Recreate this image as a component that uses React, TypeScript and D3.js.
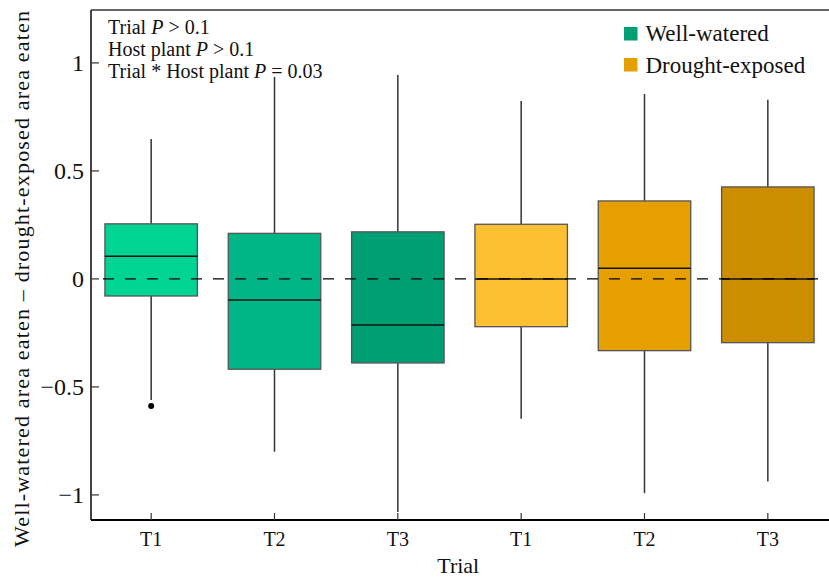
import React from "react";
import * as d3 from "d3";

const groupKeys = ["WW-T1", "WW-T2", "WW-T3", "DE-T1", "DE-T2", "DE-T3"];
const groupLabels = ["T1", "T2", "T3", "T1", "T2", "T3"];
const boxColors = ["#00D394", "#00B686", "#009E73", "#FFBF33", "#E69F00", "#CD8D00"];
const whiskerHigh = [0.648, 0.935, 0.944, 0.824, 0.856, 0.829];
const q3 = [0.255, 0.211, 0.218, 0.253, 0.361, 0.426];
const median = [0.105, -0.097, -0.213, 0, 0.049, 0];
const q1 = [-0.079, -0.418, -0.389, -0.221, -0.332, -0.295];
const whiskerLow = [-0.56, -0.8, -1.079, -0.647, -0.992, -0.938];
const outlierGroup = [0];
const outlierValue = [-0.588];

const yTicks = [-1, -0.5, 0, 0.5, 1];
const yTickLabels = ["\u22121", "\u22120.5", "0", "0.5", "1"];
const legendLabels = ["Well-watered", "Drought-exposed"];
const legendColors = ["#009E73", "#E69F00"];

const W = 829;
const H = 578;
const left = 91;
const right = 829.5;
const top = 10;
const bottom = 520;
const FONT = "'Liberation Serif', 'Times New Roman', serif";

export default function App() {
  const x = d3
    .scaleBand<string>()
    .domain(groupKeys)
    .range([89.5, 829.5])
    .paddingInner(0.25)
    .paddingOuter(0.125);
  const y = d3.scaleLinear().domain([-1.116, 1.245]).range([bottom, top]);
  const bw = x.bandwidth();

  return (
    <svg
      width={W}
      height={H}
      style={{ position: "absolute", left: 0, top: 0, background: "#fff" }}
      fontFamily={FONT}
    >
      {/* boxes */}
      {groupKeys.map((k, i) => {
        const x0 = x(k)!;
        const cx = x0 + bw / 2;
        return (
          <g key={k}>
            <line x1={cx} x2={cx} y1={y(whiskerHigh[i])} y2={y(q3[i])} stroke="#333" strokeWidth={1.5} />
            <line x1={cx} x2={cx} y1={y(q1[i])} y2={y(whiskerLow[i])} stroke="#333" strokeWidth={1.5} />
            <rect
              x={x0}
              y={y(q3[i])}
              width={bw}
              height={y(q1[i]) - y(q3[i])}
              fill={boxColors[i]}
              stroke="#555"
              strokeWidth={1.3}
            />
            <line x1={x0} x2={x0 + bw} y1={y(median[i])} y2={y(median[i])} stroke="#111" strokeWidth={1.5} />
          </g>
        );
      })}
      {outlierGroup.map((g, i) => (
        <circle key={i} cx={x(groupKeys[g])! + bw / 2} cy={y(outlierValue[i])} r={3} fill="#000" />
      ))}
      {/* zero reference */}
      <line
        x1={left + 12}
        x2={right}
        y1={y(0)}
        y2={y(0)}
        stroke="#000"
        strokeWidth={1.3}
        strokeDasharray="11,11"
      />
      {/* frame */}
      <line x1={left} x2={right} y1={top} y2={top} stroke="#333" strokeWidth={1.5} />
      <line x1={left} x2={left} y1={top} y2={bottom} stroke="#444" strokeWidth={2} />
      <line x1={left} x2={right} y1={bottom} y2={bottom} stroke="#000" strokeWidth={2} />
      {/* y ticks */}
      {yTicks.map((t, i) => (
        <g key={t}>
          <line x1={left} x2={left + 8} y1={y(t)} y2={y(t)} stroke="#333" strokeWidth={1.2} />
          <text x={84} y={y(t)} dy="0.35em" textAnchor="end" fontSize={24} fill="#111">
            {yTickLabels[i]}
          </text>
        </g>
      ))}
      {/* x ticks */}
      {groupKeys.map((k, i) => {
        const cx = x(k)! + bw / 2;
        return (
          <g key={k}>
            <line x1={cx} x2={cx} y1={bottom} y2={bottom - 7} stroke="#333" strokeWidth={1.2} />
            <text x={cx} y={546} textAnchor="middle" fontSize={20} fill="#111">
              {groupLabels[i]}
            </text>
          </g>
        );
      })}
      <text x={(left + right) / 2 - 2} y={573} textAnchor="middle" fontSize={22} fill="#111">
        Trial
      </text>
      <text
        transform={`translate(29,${(top + 548) / 2}) rotate(-90)`}
        textAnchor="middle"
        fontSize={22}
        fill="#111"
        textLength={536}
        lengthAdjust="spacing"
      >
        Well-watered area eaten – drought-exposed area eaten
      </text>
      {/* annotation */}
      <g fontSize={20} fill="#111">
        <text x={108} y={34}>
          Trial <tspan fontStyle="italic">P</tspan> &gt; 0.1
        </text>
        <text x={108} y={56}>
          Host plant <tspan fontStyle="italic">P</tspan> &gt; 0.1
        </text>
        <text x={108} y={78}>
          Trial * Host plant <tspan fontStyle="italic">P</tspan> = 0.03
        </text>
      </g>
      {/* legend */}
      {legendLabels.map((l, i) => (
        <g key={l}>
          <rect x={624} y={27 + i * 31} width={13.5} height={13.5} fill={legendColors[i]} />
          <text x={645.5} y={41 + i * 31.5} fontSize={23} fill="#111">
            {l}
          </text>
        </g>
      ))}
    </svg>
  );
}
